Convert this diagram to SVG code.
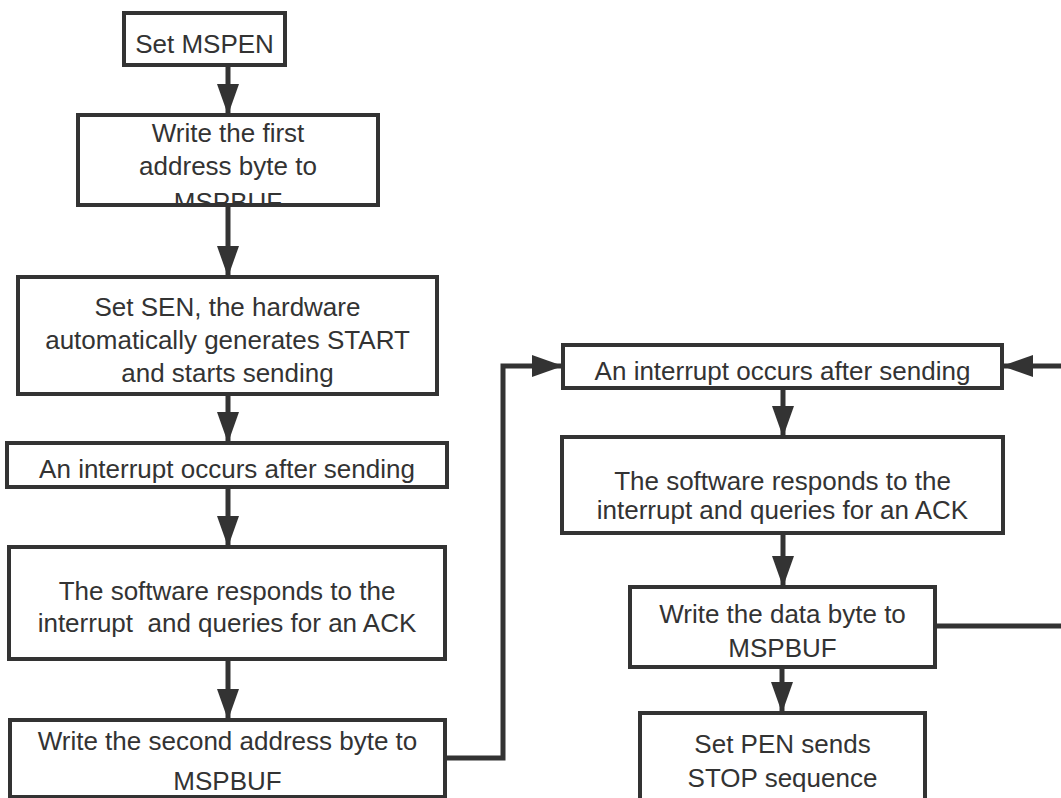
<svg xmlns="http://www.w3.org/2000/svg" width="1061" height="798" viewBox="0 0 1061 798">
<style>
.box{fill:#fff;stroke:#333;stroke-width:4}
.t{font-family:"Liberation Sans",Arial,sans-serif;font-size:26px;fill:#333;text-anchor:middle;white-space:pre}
.c{fill:none;stroke:#333;stroke-width:5}
</style>
<defs>
<marker id="ah" markerUnits="userSpaceOnUse" markerWidth="32" markerHeight="24" refX="31" refY="11" orient="auto">
<path d="M0,0 L31,11 L0,22 z" fill="#333"/>
</marker>
<clipPath id="clip2"><rect x="80" y="117" width="296" height="86"/></clipPath>
</defs>
<rect width="1061" height="798" fill="#fff"/>
<g id="connectors">
<line class="c" x1="228" y1="65" x2="228" y2="115" marker-end="url(#ah)"/>
<line class="c" x1="228" y1="205" x2="228" y2="277" marker-end="url(#ah)"/>
<line class="c" x1="228" y1="394" x2="228" y2="443" marker-end="url(#ah)"/>
<line class="c" x1="228" y1="487" x2="228" y2="547" marker-end="url(#ah)"/>
<line class="c" x1="228" y1="659" x2="228" y2="720" marker-end="url(#ah)"/>
<path class="c" d="M445,758 H503 V366 H563" marker-end="url(#ah)"/>
<line class="c" x1="783" y1="388" x2="783" y2="437" marker-end="url(#ah)"/>
<line class="c" x1="783" y1="533" x2="783" y2="587" marker-end="url(#ah)"/>
<line class="c" x1="782" y1="667" x2="782" y2="713" marker-end="url(#ah)"/>
<path class="c" d="M935,626 H1066 V366 H1002" marker-end="url(#ah)"/>
</g>
<g id="n1">
<rect class="box" x="124" y="13" width="161" height="52"/>
<text class="t" x="204.5" y="53">Set MSPEN</text>
</g>
<g id="n2">
<rect class="box" x="78" y="115" width="300" height="90"/>
<g clip-path="url(#clip2)">
<text class="t" x="228" y="142">Write the first</text>
<text class="t" x="228" y="175">address byte to</text>
<text class="t" x="228" y="211">MSPBUF</text>
</g>
</g>
<g id="n3">
<rect class="box" x="18" y="277" width="419" height="117"/>
<text class="t" x="227.5" y="316">Set SEN, the hardware</text>
<text class="t" x="227.5" y="349">automatically generates START</text>
<text class="t" x="227.5" y="382">and starts sending</text>
</g>
<g id="n4">
<rect class="box" x="7" y="443" width="440" height="44"/>
<text class="t" x="227" y="478">An interrupt occurs after sending</text>
</g>
<g id="n5">
<rect class="box" x="9" y="547" width="436" height="112"/>
<text class="t" x="227" y="600">The software responds to the</text>
<text class="t" x="227" y="632">interrupt  and queries for an ACK</text>
</g>
<g id="n6">
<rect class="box" x="10" y="720" width="435" height="77"/>
<text class="t" x="227.5" y="750">Write the second address byte to</text>
<text class="t" x="227.5" y="790">MSPBUF</text>
</g>
<g id="n7">
<rect class="box" x="563" y="345" width="439" height="43"/>
<text class="t" x="782.5" y="380">An interrupt occurs after sending</text>
</g>
<g id="n8">
<rect class="box" x="562" y="437" width="441" height="96"/>
<text class="t" x="782.5" y="490">The software responds to the</text>
<text class="t" x="782.5" y="519">interrupt and queries for an ACK</text>
</g>
<g id="n9">
<rect class="box" x="630" y="587" width="305" height="80"/>
<text class="t" x="782.5" y="623">Write the data byte to</text>
<text class="t" x="782.5" y="657">MSPBUF</text>
</g>
<g id="n10">
<rect class="box" x="640" y="713" width="285" height="95"/>
<text class="t" x="782.5" y="753">Set PEN sends</text>
<text class="t" x="782.5" y="787">STOP sequence</text>
</g>
</svg>
